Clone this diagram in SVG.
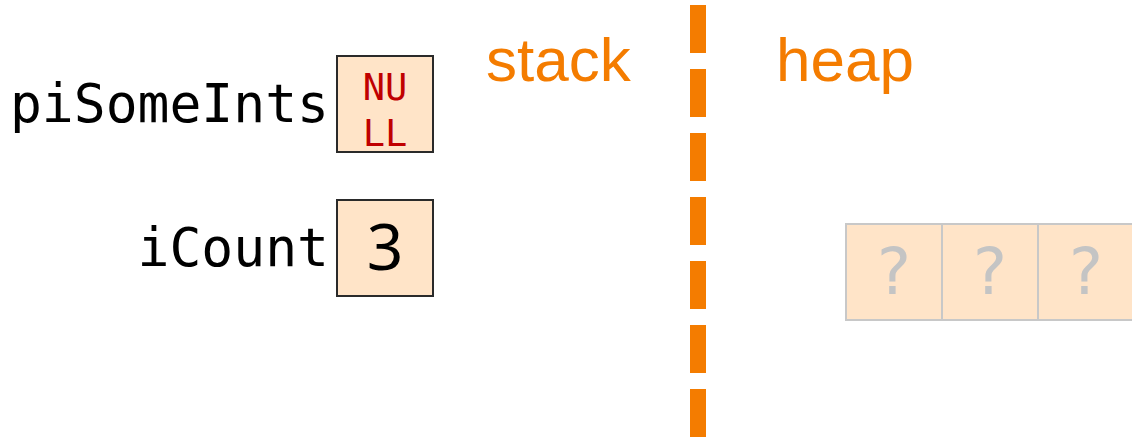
<svg xmlns="http://www.w3.org/2000/svg" width="1132" height="438" viewBox="0 0 1132 438">
  <style>
    .lbl { font-family: "DejaVu Sans Mono", monospace; font-size: 53px; fill: #000; }
    .box { fill: #ffe4c8; stroke: #2a2a2a; stroke-width: 2; }
    .hbox { fill: #ffe4c8; stroke: #c8c8c8; stroke-width: 2; }
    .null { font-family: "DejaVu Sans Mono", monospace; font-size: 37px; fill: #c00000; text-anchor: middle; }
    .val { font-family: "Noto Sans", "DejaVu Sans", sans-serif; font-size: 64px; fill: #000; text-anchor: middle; }
    .q { font-family: "DejaVu Sans", sans-serif; font-size: 64px; fill: #c4c4c4; text-anchor: middle; }
    .hdr { font-family: "Liberation Sans", Arial, sans-serif; font-size: 62px; fill: #f47c00; }
  </style>
  <rect width="1132" height="438" fill="#fff"/>
  <g id="divider">
    <line x1="698" y1="5" x2="698" y2="438" stroke="#f47c00" stroke-width="16" stroke-dasharray="48 16"/>
  </g>
  <g id="stack-label"><text class="hdr" x="486" y="81">stack</text></g>
  <g id="heap-label"><text class="hdr" x="776" y="81">heap</text></g>
  <g id="piSomeInts">
    <text class="lbl" x="329" y="122" text-anchor="end">piSomeInts</text>
    <rect class="box" x="337" y="56" width="96" height="96"/>
    <text class="null" x="385" y="100">NU</text>
    <text class="null" x="385" y="146">LL</text>
  </g>
  <g id="iCount">
    <text class="lbl" x="329" y="266" text-anchor="end">iCount</text>
    <rect class="box" x="337" y="200" width="96" height="96"/>
    <text class="val" x="385" y="270">3</text>
  </g>
  <g id="heap-array">
    <rect class="hbox" x="846" y="224" width="96" height="96"/>
    <rect class="hbox" x="942" y="224" width="96" height="96"/>
    <rect class="hbox" x="1038" y="224" width="96" height="96"/>
    <text class="q" x="894" y="294">?</text>
    <text class="q" x="990" y="294">?</text>
    <text class="q" x="1086" y="294">?</text>
  </g>
  <g id="connectors"/>
</svg>
